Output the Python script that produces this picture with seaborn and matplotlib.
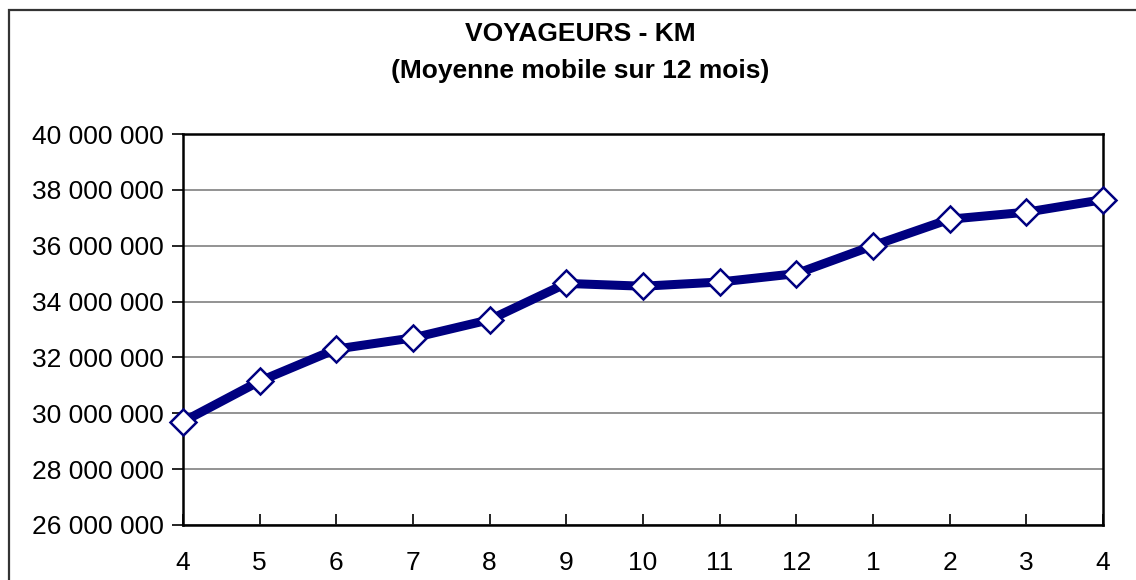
import numpy as np
import pandas as pd
import matplotlib
matplotlib.use('Agg')
import matplotlib.pyplot as plt
import matplotlib.ticker as mticker
import seaborn as sns

# Data
months = ['4', '5', '6', '7', '8', '9', '10', '11', '12', '1', '2', '3', '4']
voyageurs_km = [29700000, 31150000, 32300000, 32700000, 33350000, 34650000,
                34550000, 34700000, 35000000, 36000000, 36950000, 37200000, 37650000]

df = pd.DataFrame({'pos': np.arange(len(months)), 'value': voyageurs_km})

sns.set_style('white')
plt.rcParams['font.family'] = ['Liberation Sans', 'DejaVu Sans']
plt.rcParams['text.color'] = 'black'
plt.rcParams['xtick.color'] = 'black'
plt.rcParams['ytick.color'] = 'black'

fig = plt.figure(figsize=(11.36, 5.8), dpi=100)
ax = fig.add_axes([183 / 1136, 1 - 525 / 580, (1103 - 183) / 1136, (525 - 134) / 580])

sns.lineplot(data=df, x='pos', y='value', ax=ax, color='#000080', linewidth=6.5,
             marker='D', markersize=13, markerfacecolor='white',
             markeredgecolor='#000080', markeredgewidth=1.8, clip_on=False, zorder=5)

ax.set_xlim(0, len(months) - 1)
ax.set_ylim(26000000, 40000000)
ax.set_yticks(np.arange(26000000, 40000001, 2000000))
ax.yaxis.set_major_formatter(mticker.FuncFormatter(lambda v, p: f"{v:,.0f}".replace(',', ' ')))
ax.set_xticks(df['pos'])
ax.set_xticklabels(months)
ax.set_xlabel('')
ax.set_ylabel('')

ax.grid(axis='y', color='#808080', linewidth=1.2)
ax.grid(axis='x', visible=False)
for s in ax.spines.values():
    s.set_color('black')
    s.set_linewidth(1.8)
    s.set_visible(True)

ax.tick_params(axis='y', direction='out', length=8, width=1.2, color='black',
               labelcolor='black', labelsize=19, pad=6, left=True)
ax.tick_params(axis='x', direction='in', length=8, width=1.2, color='black',
               labelcolor='black', labelsize=19, pad=19, bottom=True)

fig.text(580 / 1136, 1 - 34 / 580, 'VOYAGEURS - KM', ha='center', va='center',
         fontsize=19, fontweight='bold', color='black')
fig.text(580 / 1136, 1 - 71 / 580, '(Moyenne mobile sur 12 mois)', ha='center', va='center',
         fontsize=19, fontweight='bold', color='black')

# outer chart frame (cut off at right and bottom)
frame = plt.Rectangle((9 / 1136, -0.1), 1.2, 1 - 10 / 580 + 0.1, transform=fig.transFigure,
                      fill=False, edgecolor='#333333', linewidth=1.6)
fig.patches.append(frame)

fig.savefig('out.png', dpi=100)
